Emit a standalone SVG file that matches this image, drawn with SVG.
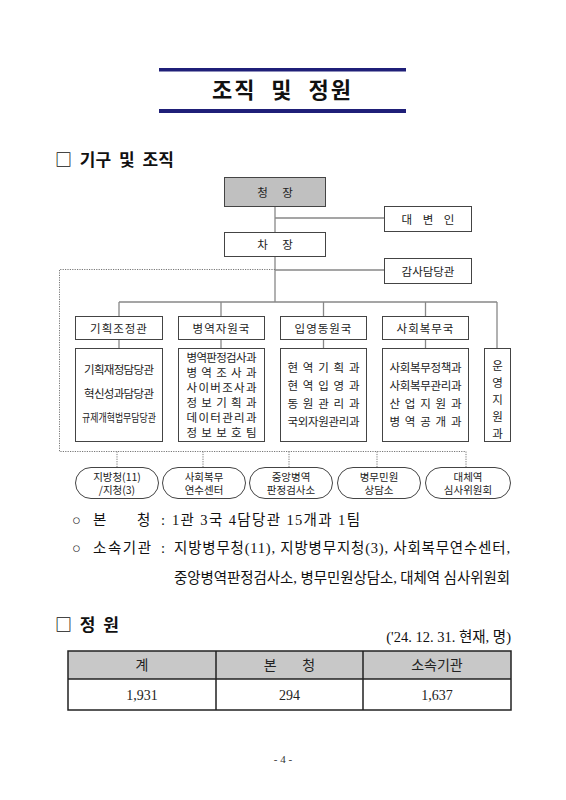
<svg xmlns="http://www.w3.org/2000/svg" width="566" height="800" viewBox="0 0 566 800">
<style>
.box{fill:#fff;stroke:#444;stroke-width:1}
.grey{fill:#c0c0c0}
.ln{stroke:#888;stroke-width:1.3;fill:none}
.dot{stroke:#777;stroke-width:1;stroke-dasharray:1.2 1.2;fill:none}
.t{font-family:"Noto Sans CJK KR","Noto Sans",sans-serif;font-size:11.5px;fill:#222;text-anchor:middle}
.s{font-family:"Noto Sans CJK KR","Noto Sans",sans-serif;font-size:10.5px;fill:#222;text-anchor:middle}
.h{font-family:"Noto Sans CJK KR",sans-serif;font-weight:bold;fill:#111}
.b{font-family:"Liberation Serif","Noto Sans CJK KR",serif;font-size:14.5px;fill:#111}
.tb{font-family:"Liberation Serif","Noto Sans CJK KR",serif;font-size:14px;fill:#222;text-anchor:middle}
</style>
<rect width="566" height="800" fill="#fff"/>
<g id="title">
<rect x="159" y="68" width="247" height="3.5" fill="#1f1f78"/>
<rect x="159" y="109" width="247" height="4" fill="#1f1f78"/>
<text x="282.5" y="98" class="h" font-size="22" text-anchor="middle" letter-spacing="2" word-spacing="8">조직 및 정원</text>
</g>
<text x="55" y="166" class="h" font-size="17" word-spacing="4">□ 기구 및 조직</text>

<g id="connectors">
<path class="ln" d="M275 207V232M275 218H384M275 257V302M275 270H384M119 302H497M119 302V316M221 302V316M323.5 302V316M425.5 302V316M497 302V348M119 340V348M221 340V348M323.5 340V348M425.5 340V348"/>
<path class="dot" d="M275 269.5H59.5V451.5H466M117 451.5V467M203 451.5V467M289 451.5V467M377 451.5V467M466 451.5V467"/>
</g>

<g id="n_chung"><rect class="box grey" x="224.5" y="177.5" width="101" height="29"/><text class="t" x="275" y="196.5" word-spacing="12">청 장</text></g>
<g id="n_daebyun"><rect class="box" x="384.5" y="206.5" width="87" height="25"/><text class="t" x="428" y="223.5" word-spacing="8">대 변 인</text></g>
<g id="n_cha"><rect class="box" x="224.5" y="232.5" width="101" height="24"/><text class="t" x="275" y="249" word-spacing="12">차 장</text></g>
<g id="n_gamsa"><rect class="box" x="384.5" y="258.5" width="87" height="25"/><text class="t" x="428" y="275.5">감사담당관</text></g>

<g id="n_d1"><rect class="box" x="75.5" y="316.5" width="87" height="23"/><text class="t" x="119" y="332.5" font-size="12.5" letter-spacing="1">기획조정관</text></g>
<g id="n_d2"><rect class="box" x="178.5" y="316.5" width="86" height="23"/><text class="t" x="221.5" y="332.5" font-size="12.5" letter-spacing="1">병역자원국</text></g>
<g id="n_d3"><rect class="box" x="280.5" y="316.5" width="86" height="23"/><text class="t" x="323.5" y="332.5" font-size="12.5" letter-spacing="1">입영동원국</text></g>
<g id="n_d4"><rect class="box" x="382.5" y="316.5" width="86" height="23"/><text class="t" x="425.5" y="332.5" font-size="12.5" letter-spacing="1">사회복무국</text></g>

<g id="n_s1"><rect class="box" x="75.5" y="348.5" width="87" height="93"/>
<text class="t" x="119" y="374" textLength="70">기획재정담당관</text>
<text class="t" x="119" y="398" textLength="70">혁신성과담당관</text>
<text class="t" x="119" y="422" font-size="11" textLength="74" lengthAdjust="spacingAndGlyphs">규제개혁법무담당관</text></g>
<g id="n_s2"><rect class="box" x="178.5" y="348.5" width="86" height="93"/>
<text class="t" x="221.5" y="362" textLength="70">병역판정검사과</text>
<text class="t" x="221.5" y="377" textLength="70">병 역 조 사 과</text>
<text class="t" x="221.5" y="392" textLength="70">사이버조사과</text>
<text class="t" x="221.5" y="407" textLength="70">정 보 기 획 과</text>
<text class="t" x="221.5" y="422" textLength="70">데이터관리과</text>
<text class="t" x="221.5" y="437" textLength="70">정 보 보 호 팀</text></g>
<g id="n_s3"><rect class="box" x="280.5" y="348.5" width="86" height="93"/>
<text class="t" x="323.5" y="372" textLength="72">현 역 기 획 과</text>
<text class="t" x="323.5" y="390" textLength="72">현 역 입 영 과</text>
<text class="t" x="323.5" y="408" textLength="72">동 원 관 리 과</text>
<text class="t" x="323.5" y="426" textLength="72">국외자원관리과</text></g>
<g id="n_s4"><rect class="box" x="382.5" y="348.5" width="86" height="93"/>
<text class="t" x="425.5" y="372" textLength="72">사회복무정책과</text>
<text class="t" x="425.5" y="390" textLength="72">사회복무관리과</text>
<text class="t" x="425.5" y="408" textLength="72">산 업 지 원 과</text>
<text class="t" x="425.5" y="426" textLength="72">병 역 공 개 과</text></g>
<g id="n_s5"><rect class="box" x="484.5" y="348.5" width="26" height="93"/>
<text class="t" x="497.5" y="370">운</text>
<text class="t" x="497.5" y="387">영</text>
<text class="t" x="497.5" y="404">지</text>
<text class="t" x="497.5" y="421">원</text>
<text class="t" x="497.5" y="438">과</text></g>

<g id="n_r1"><rect class="box" x="75.5" y="467.5" width="83" height="31" rx="15.5"/><text class="s" x="117" y="480.5">지방청(11)</text><text class="s" x="117" y="494">/지청(3)</text></g>
<g id="n_r2"><rect class="box" x="162.5" y="467.5" width="83" height="31" rx="15.5"/><text class="s" x="204" y="480.5">사회복무</text><text class="s" x="204" y="494">연수센터</text></g>
<g id="n_r3"><rect class="box" x="249.5" y="467.5" width="83" height="31" rx="15.5"/><text class="s" x="291" y="480.5">중앙병역</text><text class="s" x="291" y="494">판정검사소</text></g>
<g id="n_r4"><rect class="box" x="337.5" y="467.5" width="83" height="31" rx="15.5"/><text class="s" x="379" y="480.5">병무민원</text><text class="s" x="379" y="494">상담소</text></g>
<g id="n_r5"><rect class="box" x="425.5" y="467.5" width="85" height="31" rx="15.5"/><text class="s" x="468" y="480.5">대체역</text><text class="s" x="468" y="494">심사위원회</text></g>

<text class="b" x="72" y="525">○</text>
<text class="b" x="93" y="525">본</text>
<text class="b" x="137" y="525">청</text>
<text class="b" x="161" y="525">:</text>
<text class="b" x="172" y="525" textLength="188">1관 3국 4담당관 15개과 1팀</text>
<text class="b" x="72" y="553">○</text>
<text class="b" x="93" y="553" textLength="58">소속기관</text>
<text class="b" x="161" y="553">:</text>
<text class="b" x="174" y="553" textLength="336">지방병무청(11), 지방병무지청(3), 사회복무연수센터,</text>
<text class="b" x="174" y="583" textLength="336">중앙병역판정검사소, 병무민원상담소, 대체역 심사위원회</text>

<text x="55" y="631" class="h" font-size="17" word-spacing="4">□ 정 원</text>
<text class="b" x="511" y="642" font-size="12" text-anchor="end">('24. 12. 31. 현재, 명)</text>

<g id="table">
<rect x="68" y="651" width="443" height="28" fill="#c8c8c8"/>
<rect x="68" y="651" width="443" height="59" fill="none" stroke="#222" stroke-width="1.5"/>
<path d="M68 679H511" stroke="#222" stroke-width="1.5"/>
<path d="M216 651V710M363 651V710" stroke="#222" stroke-width="1.5"/>
<text class="tb" x="142" y="670">계</text>
<text class="tb" x="289.5" y="670" word-spacing="22">본 청</text>
<text class="tb" x="437" y="670">소속기관</text>
<text class="tb" x="142" y="700">1,931</text>
<text class="tb" x="289.5" y="700">294</text>
<text class="tb" x="437" y="700">1,637</text>
</g>
<text x="283" y="763" font-family="Liberation Serif,serif" font-size="11" text-anchor="middle" fill="#333">- 4 -</text>
</svg>
